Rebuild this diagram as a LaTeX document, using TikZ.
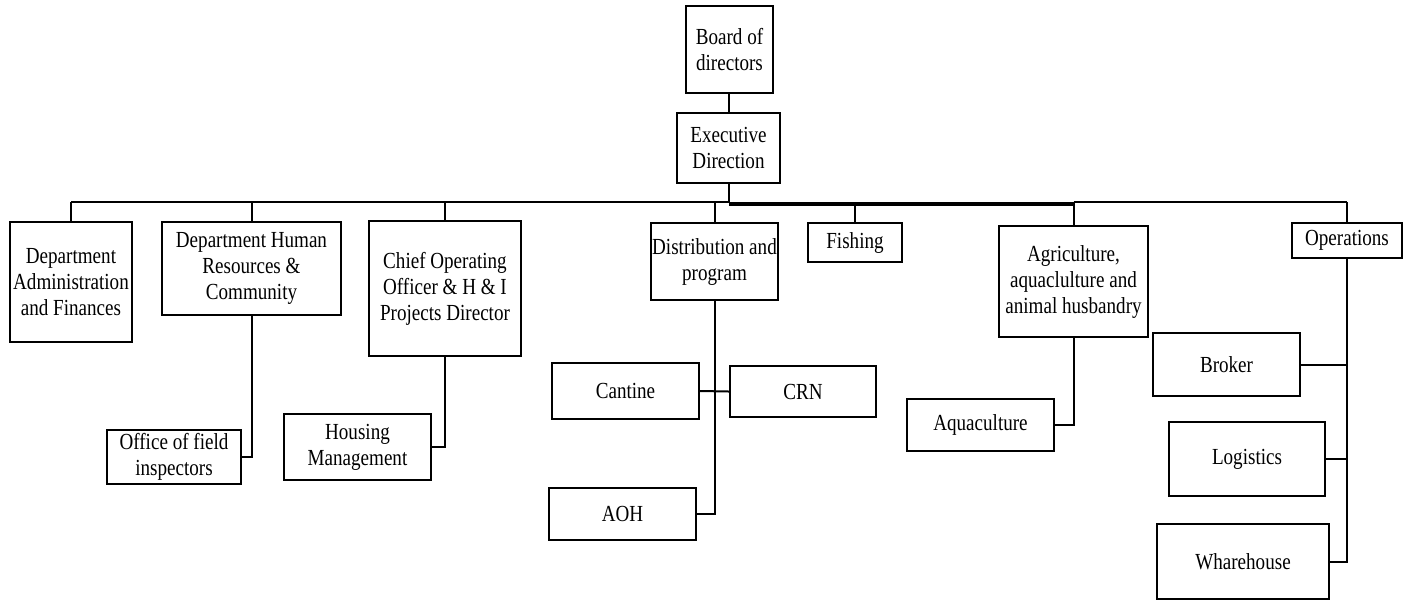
\documentclass[tikz,border=0pt]{standalone}
\usepackage{fontspec}
\setmainfont{Liberation Serif}[FakeStretch=0.83]
\begin{document}
\begin{tikzpicture}[x=0.5pt,y=-0.5pt,
  box/.style={draw, line width=1pt, inner sep=0pt, align=center, font=\fontsize{11.5}{13}\selectfont},
  conn/.style={line width=1pt}]
\useasboundingbox (0,0) rectangle (1411,601);
% nodes (sizes in pt = pixels/2)
\node[box, minimum width=43.5pt, minimum height=43.5pt] (board) at (729.5,49.5) {Board of\\directors};
\node[box, minimum width=51.5pt, minimum height=35pt] (exec) at (728.5,148) {Executive\\Direction};
\node[box, minimum width=61pt, minimum height=60pt] (admin) at (71,282) {Department\\Administration\\and Finances};
\node[box, minimum width=89.5pt, minimum height=46.5pt] (hr) at (251.5,268.5) {Department Human\\Resources \&\\Community};
\node[box, minimum width=76pt, minimum height=67.5pt] (chief) at (445,288.5) {Chief Operating\\Officer \& H \& I\\Projects Director};
\node[box, minimum width=67pt, minimum height=27pt] (office) at (174,457) {Office of field\\inspectors};
\node[box, minimum width=73.5pt, minimum height=33pt] (housing) at (357.5,447) {Housing\\Management};
\node[box, minimum width=63.5pt, minimum height=38.5pt] (dist) at (714.5,261.5) {Distribution and\\program};
\node[box, minimum width=47pt, minimum height=19.5pt] (fishing) at (855,242.5) {Fishing};
\node[box, minimum width=73.5pt, minimum height=28pt] (cantine) at (625.5,391) {Cantine};
\node[box, minimum width=73pt, minimum height=25.5pt] (crn) at (803,391.5) {CRN};
\node[box, minimum width=73.5pt, minimum height=26pt] (aoh) at (622.5,514) {AOH};
\node[box, minimum width=74.5pt, minimum height=55.5pt] (agri) at (1073.5,281.5) {Agriculture,\\aquaclulture and\\animal husbandry};
\node[box, minimum width=73.5pt, minimum height=26pt] (aqua) at (980.5,425) {Aquaculture};
\node[box, minimum width=55pt, minimum height=17.5pt] (ops) at (1347,240.5) {Operations};
\node[box, minimum width=73.5pt, minimum height=31.5pt] (broker) at (1226.5,364.5) {Broker};
\node[box, minimum width=78pt, minimum height=37pt] (logistics) at (1247,459) {Logistics};
\node[box, minimum width=86pt, minimum height=37.5pt] (whare) at (1243,561.5) {Wharehouse};
% bus
\coordinate (busL) at (70,202);
\coordinate (busR) at (1348,202);
\draw[conn] (exec.north) -- (exec.north |- board.south);
\draw[conn] (exec.south) -- (exec.south |- busL);
\draw[line width=1.3pt] (admin.north |- busL) -- (exec.south |- busL);
\draw[line width=2pt] ([yshift=-1pt]exec.south |- busL) -- ([yshift=-1pt]agri.north |- busL);
\draw[conn] (agri.north |- busL) -- (ops.north |- busR);
\foreach \n in {admin,hr,chief,dist,fishing,agri,ops}
  \draw[conn] (\n.north) -- (\n.north |- busL);
% sub connectors
\draw[conn] (hr.south) |- (office.east);
\draw[conn] (chief.south) |- (housing.east);
\draw[conn] (dist.south) |- (aoh.east);
\draw[conn] (cantine.east) -- (crn.west);
\draw[conn] (agri.south) |- (aqua.east);
\draw[conn] (ops.south) |- (whare.east);
\draw[conn] (broker.east) -- (broker.east -| ops.south);
\draw[conn] (logistics.east) -- (logistics.east -| ops.south);
\end{tikzpicture}
\end{document}
